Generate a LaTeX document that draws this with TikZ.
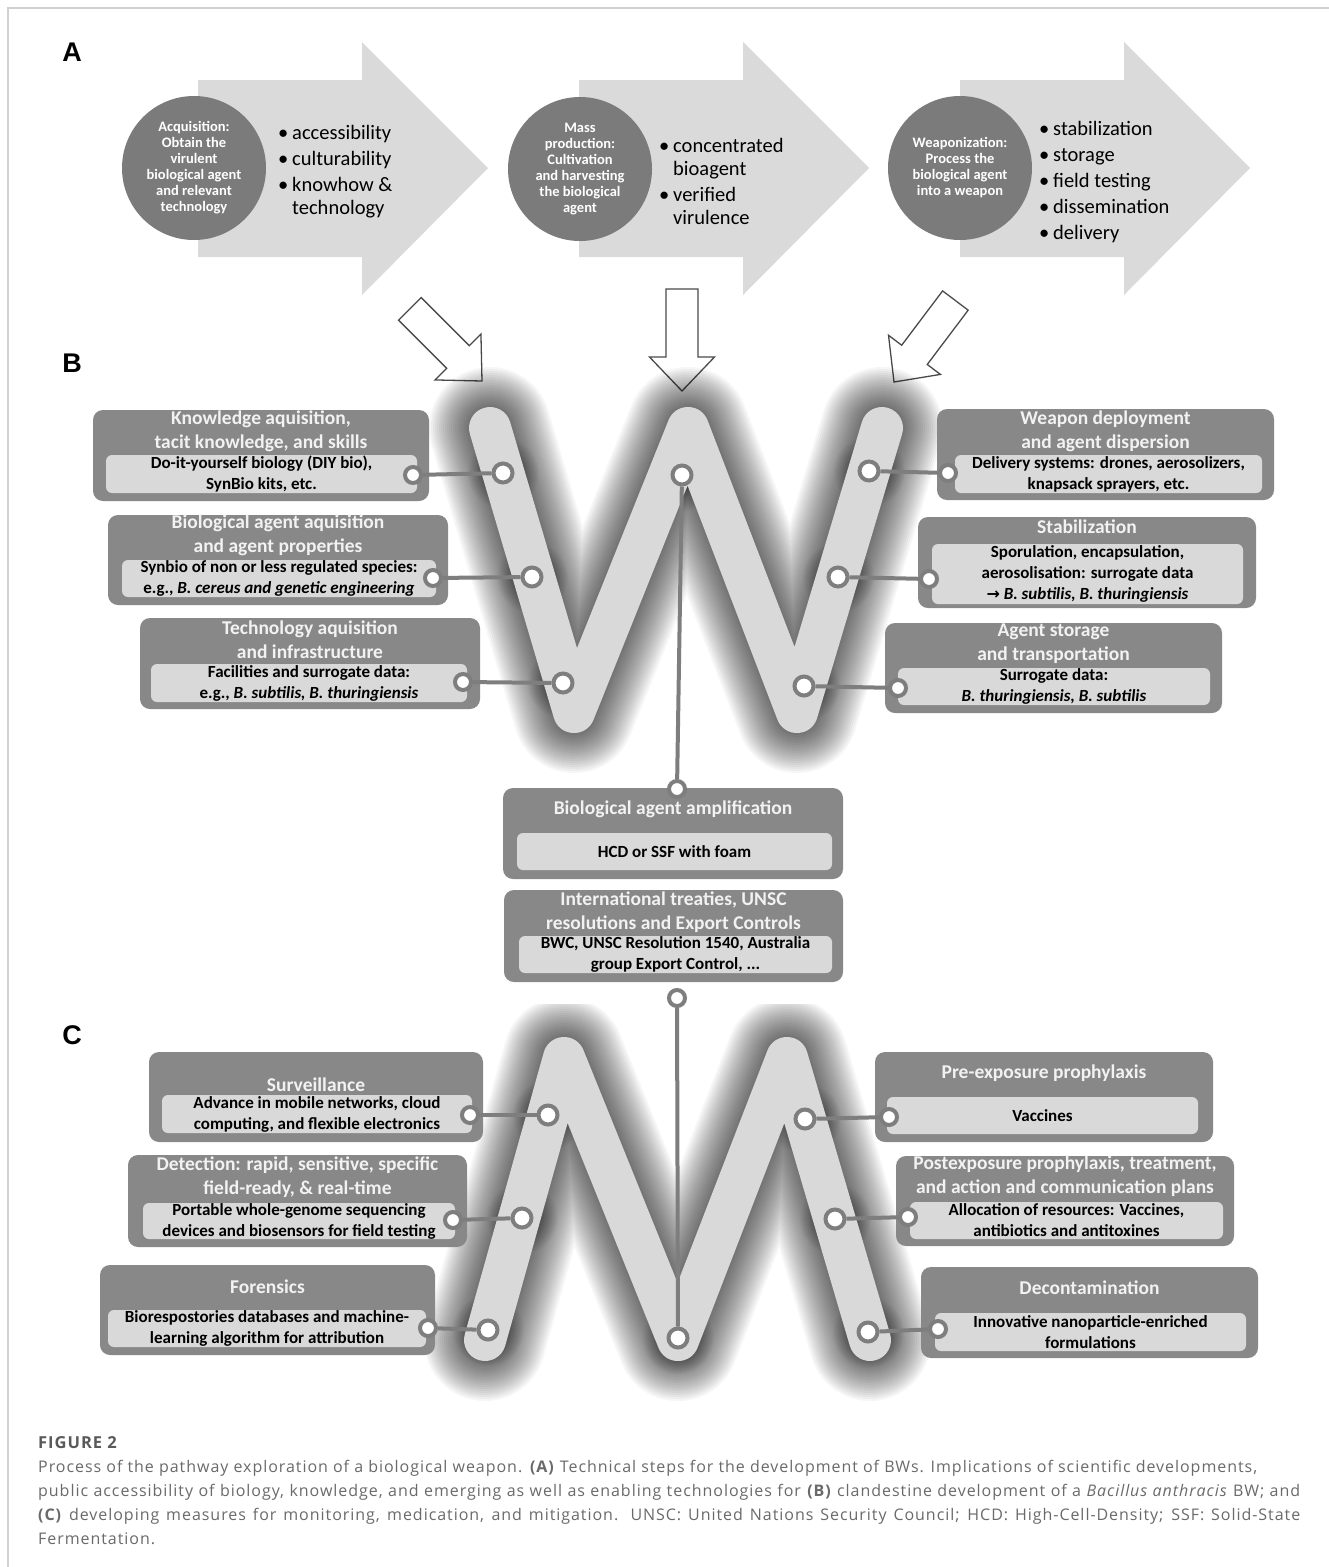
\documentclass[tikz,border=0pt]{standalone}
\usepackage{fontspec}
\setmainfont{Carlito}
\newfontfamily\labelfont{Liberation Sans}
\newfontfamily\capfont[LetterSpace=6]{Open Sans}
\newfontfamily\symfont{DejaVu Sans}
\usetikzlibrary{fit,fadings}

\definecolor{arrowgray}{HTML}{DADADA}
\definecolor{discgray}{HTML}{7B7B7B}
\definecolor{boxgray}{HTML}{888888}
\definecolor{panegray}{HTML}{D9D9D9}
\definecolor{linkgray}{HTML}{7E7E7E}
\definecolor{lettergray}{HTML}{D9D9D9}
\definecolor{hollowgray}{HTML}{4A4A4A}
\definecolor{capgray}{HTML}{6A6A6A}
\definecolor{framegray}{HTML}{D0D0D0}

\tikzfading[name=blobfade, inner color=transparent!0, outer color=transparent!100]

\newcommand{\bul}{\makebox[14pt][l]{\textbullet}}

\tikzset{
  stagearrow/.style={fill=arrowgray},
  stagedisc/.style={circle, fill=discgray, minimum size=144pt, inner sep=0pt,
    text=white, align=center, font=\bfseries\fontsize{14.5}{16}\selectfont},
  bulletlist/.style={anchor=base west, inner sep=0pt, font=\fontsize{20.5}{23}\selectfont},
  hollow/.style={draw=hollowgray, line width=1.3pt, fill=white, line join=miter},
  sectionlabel/.style={font=\labelfont\bfseries\fontsize{27}{30}\selectfont},
  letterglow/.style={black, opacity=0.035, line join=round, line cap=round},
  lettershape/.style={draw=lettergray, line width=42pt, line join=round, line cap=round},
  panelbox/.style={rectangle, rounded corners=10pt, fill=boxgray, inner sep=0pt},
  panefill/.style={rectangle, rounded corners=6pt, fill=panegray, inner sep=0pt},
  paneltitle/.style={inner sep=0pt, align=center, text=white!95!black,
    font=\bfseries\fontsize{19.5}{24}\selectfont},
  panetext/.style={inner sep=0pt, align=center, font=\bfseries\fontsize{17}{21}\selectfont},
  port/.style={circle, draw=linkgray, line width=4pt, fill=white, inner sep=0pt, minimum size=16pt},
  joint/.style={port, minimum size=19pt},
  link/.style={draw=linkgray, line width=4pt},
  captext/.style={anchor=base west, inner sep=0pt, text=capgray, font=\capfont\fontsize{16}{18}\selectfont}
}

% outer box, inner pane, title and text of one panel
\newcommand{\panel}[8]{%
  \node[panelbox, fit={(#2) (#3)}] (#1) {};
  \node[panefill, fit={(#4) (#5)}] (#1-in) {};
  \node[paneltitle] (#1-t) at (#1.center |- 0,#6) {#7};
  \node[panetext] (#1-x) at (#1-in.center) {#8};}

% open arrow, tip at #2, turned by #3
\newcommand{\hollowarrow}[3]{%
  \draw[hollow, shift={(#2)}, rotate=#3] (0,0) -- (-34,-32.5) -- (-34,-16) -- (-102,-16)
    -- (-102,16) -- (-34,16) -- (-34,32.5) -- cycle coordinate[pos=0] (#1);}

\begin{document}
\begin{tikzpicture}[x=1pt, y=-1pt]
  \useasboundingbox (0,0) rectangle (1329,1567);
  \fill[white] (0,0) rectangle (1329,1567);
  \draw[framegray, line width=1.5pt] (8,1567) -- (8,8) -- (1329,8);

  % Part A: three stages
  \node[sectionlabel] (labA) at (72,52) {A};
  \foreach \x in {198,579,960}
    \fill[stagearrow] (\x,80) -- ++(164,0) -- ++(0,-38) -- ++(126,126) -- ++(-126,127)
      -- ++(0,-38) -- ++(-164,0) -- cycle;

  \node[stagedisc] (acq) at (194,168) {Acquisition:\\Obtain the\\virulent\\biological agent\\and relevant\\technology};
  \node[stagedisc] (mass) at (580,169) {Mass\\production:\\Cultivation\\and harvesting\\the biological\\agent};
  \node[stagedisc] (weap) at (960,168) {Weaponization:\\Process the\\biological agent\\into a weapon};

  \node[bulletlist] (acq-l) at (278,139) {\begin{tabular}[t]{@{}l@{}}
    \bul accessibility\\[3pt] \bul culturability\\[3pt] \bul knowhow \&\\ \hspace*{14pt}technology\end{tabular}};
  \node[bulletlist] (mass-l) at (659,152) {\begin{tabular}[t]{@{}l@{}}
    \bul concentrated\\ \hspace*{14pt}bioagent\\[3pt] \bul verified\\ \hspace*{14pt}virulence\end{tabular}};
  \node[bulletlist] (weap-l) at (1039,135) {\begin{tabular}[t]{@{}l@{}}
    \bul stabilization\\[3pt] \bul storage\\[3pt] \bul field testing\\[3pt] \bul dissemination\\[3pt] \bul delivery\end{tabular}};

  % open arrows down to the W
  \hollowarrow{arrL}{482,381}{-45}
  \hollowarrow{arrM}{682,391}{-90}
  \hollowarrow{arrR}{894,382}{-127}

  % Part B: the W
  \node[sectionlabel] (labB) at (72,363) {B};
  \coordinate (W1) at (490,428);
  \coordinate (W2) at (574,712);
  \coordinate (W3) at (688,428);
  \coordinate (W4) at (797,712);
  \coordinate (W5) at (882,428);
  \begin{scope}
    \clip (410,360) rectangle (970,800);
    \foreach \g in {1,...,20}
      \draw[letterglow, line width=42pt+4pt*\g] (W1) -- (W2) -- (W3) -- (W4) -- (W5);
  \end{scope}
  \foreach \x/\y in {503/473,532/577,563/683,682/475,869/471,838/577,804/686}
    \fill[black, opacity=0.6, path fading=blobfade] (\x,\y) circle (36pt);
  \draw[lettershape] (W1) -- (W2) -- (W3) -- (W4) -- (W5);

  % Part C: the M
  \node[sectionlabel] (labC) at (72,1035) {C};
  \coordinate (M1) at (485,1340);
  \coordinate (M2) at (564,1058);
  \coordinate (M3) at (678,1340);
  \coordinate (M4) at (787,1058);
  \coordinate (M5) at (870,1340);
  \begin{scope}
    \clip (400,1004) rectangle (960,1410);
    \foreach \g in {1,...,20}
      \draw[letterglow, line width=42pt+4pt*\g] (M1) -- (M2) -- (M3) -- (M4) -- (M5);
  \end{scope}
  \foreach \x/\y in {548/1115,522/1218,488/1330,678/1338,805/1119,835/1219,868/1332}
    \fill[black, opacity=0.6, path fading=blobfade] (\x,\y) circle (36pt);
  \draw[lettershape] (M1) -- (M2) -- (M3) -- (M4) -- (M5);

  % panels of B
  \panel{know}{93,410}{429,501}{106,455}{417,493}{431}
    {Knowledge aquisition,\\tacit knowledge, and skills}
    {Do-it-yourself biology (DIY bio),\\SynBio kits, etc.}
  \panel{bioag}{108,515}{448,605}{122,560}{436,597}{535.5}
    {Biological agent aquisition\\and agent properties}
    {Synbio of non or less regulated species:\\e.g., \textit{B. cereus and genetic engineering}}
  \panel{techn}{140,618}{480,709}{151,664}{467,702}{639.5}
    {Technology aquisition\\and infrastructure}
    {Facilities and surrogate data:\\e.g., \textit{B. subtilis, B. thuringiensis}}
  \panel{deploy}{937,409}{1274,500}{955,455}{1262,493}{431}
    {Weapon deployment\\and agent dispersion}
    {Delivery systems: drones, aerosolizers,\\knapsack sprayers, etc.}
  \panel{stab}{918,517}{1256,608}{932,544}{1243,604}{527}
    {Stabilization}
    {Sporulation, encapsulation,\\aerosolisation: surrogate data\\{\symfont\fontsize{16}{21}\selectfont →} \textit{B. subtilis, B. thuringiensis}}
  \panel{store}{885,623}{1222,713}{898,668}{1210,705}{643.5}
    {Agent storage\\and transportation}
    {Surrogate data:\\\textit{B. thuringiensis, B. subtilis}}
  \panel{ampl}{503,788}{843,879}{517,833}{832,870}{809}
    {Biological agent amplification}
    {HCD or SSF with foam}
  \panel{treaty}{504,890}{843,982}{519,936}{832,973}{912.5}
    {International treaties, UNSC\\resolutions and Export Controls}
    {BWC, UNSC Resolution 1540, Australia\\group Export Control, ...}

  % panels of C
  \panel{surv}{149,1052}{483,1142}{162,1095}{472,1133}{1085}
    {Surveillance}
    {Advance in mobile networks, cloud\\computing, and flexible electronics}
  \panel{detect}{128,1155}{467,1247}{143,1203}{455,1239}{1177.5}
    {Detection: rapid, sensitive, specific\\field-ready, \& real-time}
    {Portable whole-genome sequencing\\devices and biosensors for field testing}
  \panel{foren}{100,1265}{435,1355}{108,1310}{426,1347}{1287}
    {Forensics}
    {Biorespostories databases and machine-\\learning algorithm for attribution}
  \panel{prexp}{875,1052}{1213,1142}{887,1097}{1198,1134}{1073}
    {Pre-exposure prophylaxis}
    {Vaccines}
  \panel{postexp}{896,1156}{1234,1246}{910,1202}{1223,1239}{1176.5}
    {Postexposure prophylaxis, treatment,\\and action and communication plans}
    {Allocation of resources: Vaccines,\\antibiotics and antitoxines}
  \panel{decon}{921,1267}{1258,1358}{935,1313}{1246,1351}{1288}
    {Decontamination}
    {Innovative nanoparticle-enriched\\formulations}

  % ports on the panels
  \node[port] (know-p) at (413,475) {};
  \node[port] (bioag-p) at (433,578) {};
  \node[port] (techn-p) at (463,682) {};
  \node[port] (deploy-p) at (948,473) {};
  \node[port] (stab-p) at (929,579) {};
  \node[port] (store-p) at (898,688) {};
  \node[port] (ampl-p) at (677,789) {};
  \node[port] (treaty-p) at (677,998) {};
  \node[port] (surv-p) at (470,1115) {};
  \node[port] (detect-p) at (453,1220) {};
  \node[port] (foren-p) at (428,1328) {};
  \node[port] (prexp-p) at (889,1117) {};
  \node[port] (postexp-p) at (908,1217) {};
  \node[port] (decon-p) at (938,1329) {};

  % joints on the letters
  \node[joint] (jW1) at (503,473) {};
  \node[joint] (jW2) at (532,577) {};
  \node[joint] (jW3) at (563,683) {};
  \node[joint] (jW4) at (682,475) {};
  \node[joint] (jW5) at (869,471) {};
  \node[joint] (jW6) at (838,577) {};
  \node[joint] (jW7) at (804,686) {};
  \node[joint] (jM1) at (548,1115) {};
  \node[joint] (jM2) at (522,1218) {};
  \node[joint] (jM3) at (488,1330) {};
  \node[joint] (jM4) at (678,1338) {};
  \node[joint] (jM5) at (805,1119) {};
  \node[joint] (jM6) at (835,1219) {};
  \node[joint] (jM7) at (868,1332) {};

  % connectors
  \draw[link] (know-p) -- (jW1);
  \draw[link] (bioag-p) -- (jW2);
  \draw[link] (techn-p) -- (jW3);
  \draw[link] (jW4) -- (ampl-p);
  \draw[link] (deploy-p) -- (jW5);
  \draw[link] (stab-p) -- (jW6);
  \draw[link] (store-p) -- (jW7);
  \draw[link] (treaty-p) -- (jM4);
  \draw[link] (surv-p) -- (jM1);
  \draw[link] (detect-p) -- (jM2);
  \draw[link] (foren-p) -- (jM3);
  \draw[link] (prexp-p) -- (jM5);
  \draw[link] (postexp-p) -- (jM6);
  \draw[link] (decon-p) -- (jM7);

  % caption
  \node[captext, font=\capfont\bfseries\fontsize{16.5}{18}\selectfont, text=capgray!85!black] (fig) at (38,1448) {FIGURE 2};
  \node[captext] (cap1) at (38,1472) {Process of the pathway exploration of a biological weapon. \textbf{(A)} Technical steps for the development of BWs. Implications of scientific developments,};
  \node[captext] (cap2) at (38,1496) {\makebox[1262pt][s]{public accessibility of biology, knowledge, and emerging as well as enabling technologies for \textbf{(B)} clandestine development of a \textit{Bacillus anthracis} BW; and}};
  \node[captext] (cap3) at (38,1520) {\makebox[1262pt][s]{\textbf{(C)} developing measures for monitoring, medication, and mitigation. UNSC: United Nations Security Council; HCD: High-Cell-Density; SSF: Solid-State}};
  \node[captext] (cap4) at (38,1544) {Fermentation.};
\end{tikzpicture}
\end{document}
